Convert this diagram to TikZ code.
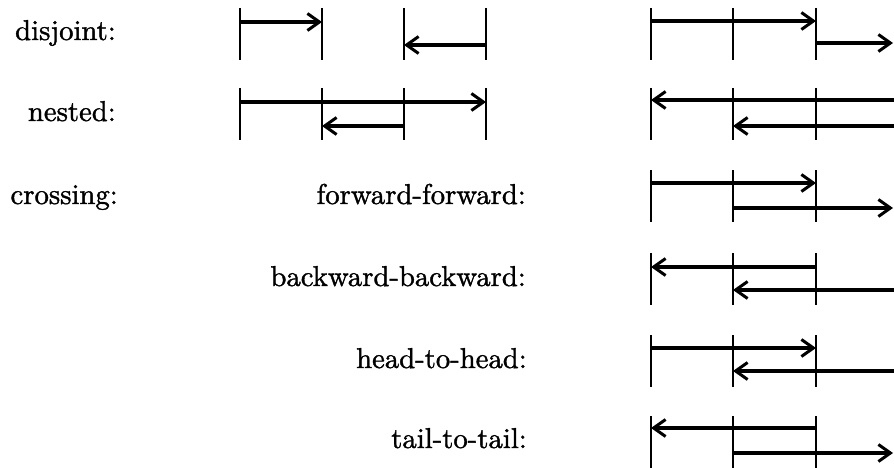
\documentclass[tikz,border=0pt]{standalone}
\usepackage{fontspec}
\newfontfamily\lblfont{lmroman10-regular.otf}[FakeBold=1.3]
\usetikzlibrary{arrows.meta}
\begin{document}
\begin{tikzpicture}[x=1pt,y=-1pt,
  tickline/.style={line width=2.8pt},
  arr/.style={line width=3.2pt,-{Straight Barb[length=12pt,width=17pt,line width=3pt]}},
  thk/.style={line width=4.4pt},
  lbl/.style={anchor=base east,inner sep=0pt,font=\lblfont\fontsize{28.7}{34}\selectfont}]
\useasboundingbox (0,0) rectangle (894,468);
% labels
\node[lbl] (ldis) at (116,40) {disjoint:};
\node[lbl] (lnes) at (116,121) {nested:};
\node[lbl] (lcro) at (118,204) {crossing:};
\node[lbl] (lff) at (526,204) {forward-forward:};
\node[lbl] (lbb) at (526,286) {backward-backward:};
\node[lbl] (lhh) at (527,368) {head-to-head:};
\node[lbl] (ltt) at (527,448) {tail-to-tail:};
% ticks, left block
\foreach \t [count=\r] in {8,88}
  \foreach \x [count=\i] in {240,322,404,486}
    \draw[tickline] (\x,\t) coordinate (L\r-\i) -- (\x,\t+52);
% ticks, right block
\foreach \t [count=\r] in {8,88,170,253,335,416}
  \foreach \x [count=\i] in {651,733,816}
    \draw[tickline] (\x,\t) coordinate (R\r-\i) -- (\x,\t+52);
% disjoint, left
\coordinate (d1s) at (240,22); \coordinate (d1e) at (322,22);
\coordinate (d2s) at (486,45); \coordinate (d2e) at (404,45);
\draw[arr,thk] (d1s) -- (d1e);
\draw[arr,thk] (d2s) -- (d2e);
% nested, left
\coordinate (n1s) at (240,102); \coordinate (n1e) at (486,102);
\coordinate (n2s) at (404,126); \coordinate (n2e) at (322,126);
\draw[arr] (n1s) -- (n1e);
\draw[arr,thk] (n2s) -- (n2e);
% right block
\coordinate (r1as) at (651,21);  \coordinate (r1ae) at (816,21);
\coordinate (r1bs) at (816,43);  \coordinate (r1be) at (893,43);
\draw[arr] (r1as) -- (r1ae);
\draw[arr,thk] (r1bs) -- (r1be);
\coordinate (r2as) at (900,100); \coordinate (r2ae) at (651,100);
\coordinate (r2bs) at (900,126); \coordinate (r2be) at (733,126);
\draw[arr] (r2as) -- (r2ae);
\draw[arr,thk] (r2bs) -- (r2be);
\coordinate (r3as) at (651,183); \coordinate (r3ae) at (816,183);
\coordinate (r3bs) at (733,208); \coordinate (r3be) at (893,208);
\draw[arr] (r3as) -- (r3ae);
\draw[arr,thk] (r3bs) -- (r3be);
\coordinate (r4as) at (816,267); \coordinate (r4ae) at (651,267);
\coordinate (r4bs) at (900,290); \coordinate (r4be) at (733,290);
\draw[arr] (r4as) -- (r4ae);
\draw[arr,thk] (r4bs) -- (r4be);
\coordinate (r5as) at (651,348); \coordinate (r5ae) at (816,348);
\coordinate (r5bs) at (900,371); \coordinate (r5be) at (733,371);
\draw[arr] (r5as) -- (r5ae);
\draw[arr,thk] (r5bs) -- (r5be);
\coordinate (r6as) at (816,428); \coordinate (r6ae) at (651,428);
\coordinate (r6bs) at (733,453); \coordinate (r6be) at (893,453);
\draw[arr] (r6as) -- (r6ae);
\draw[arr,thk] (r6bs) -- (r6be);
\end{tikzpicture}
\end{document}
